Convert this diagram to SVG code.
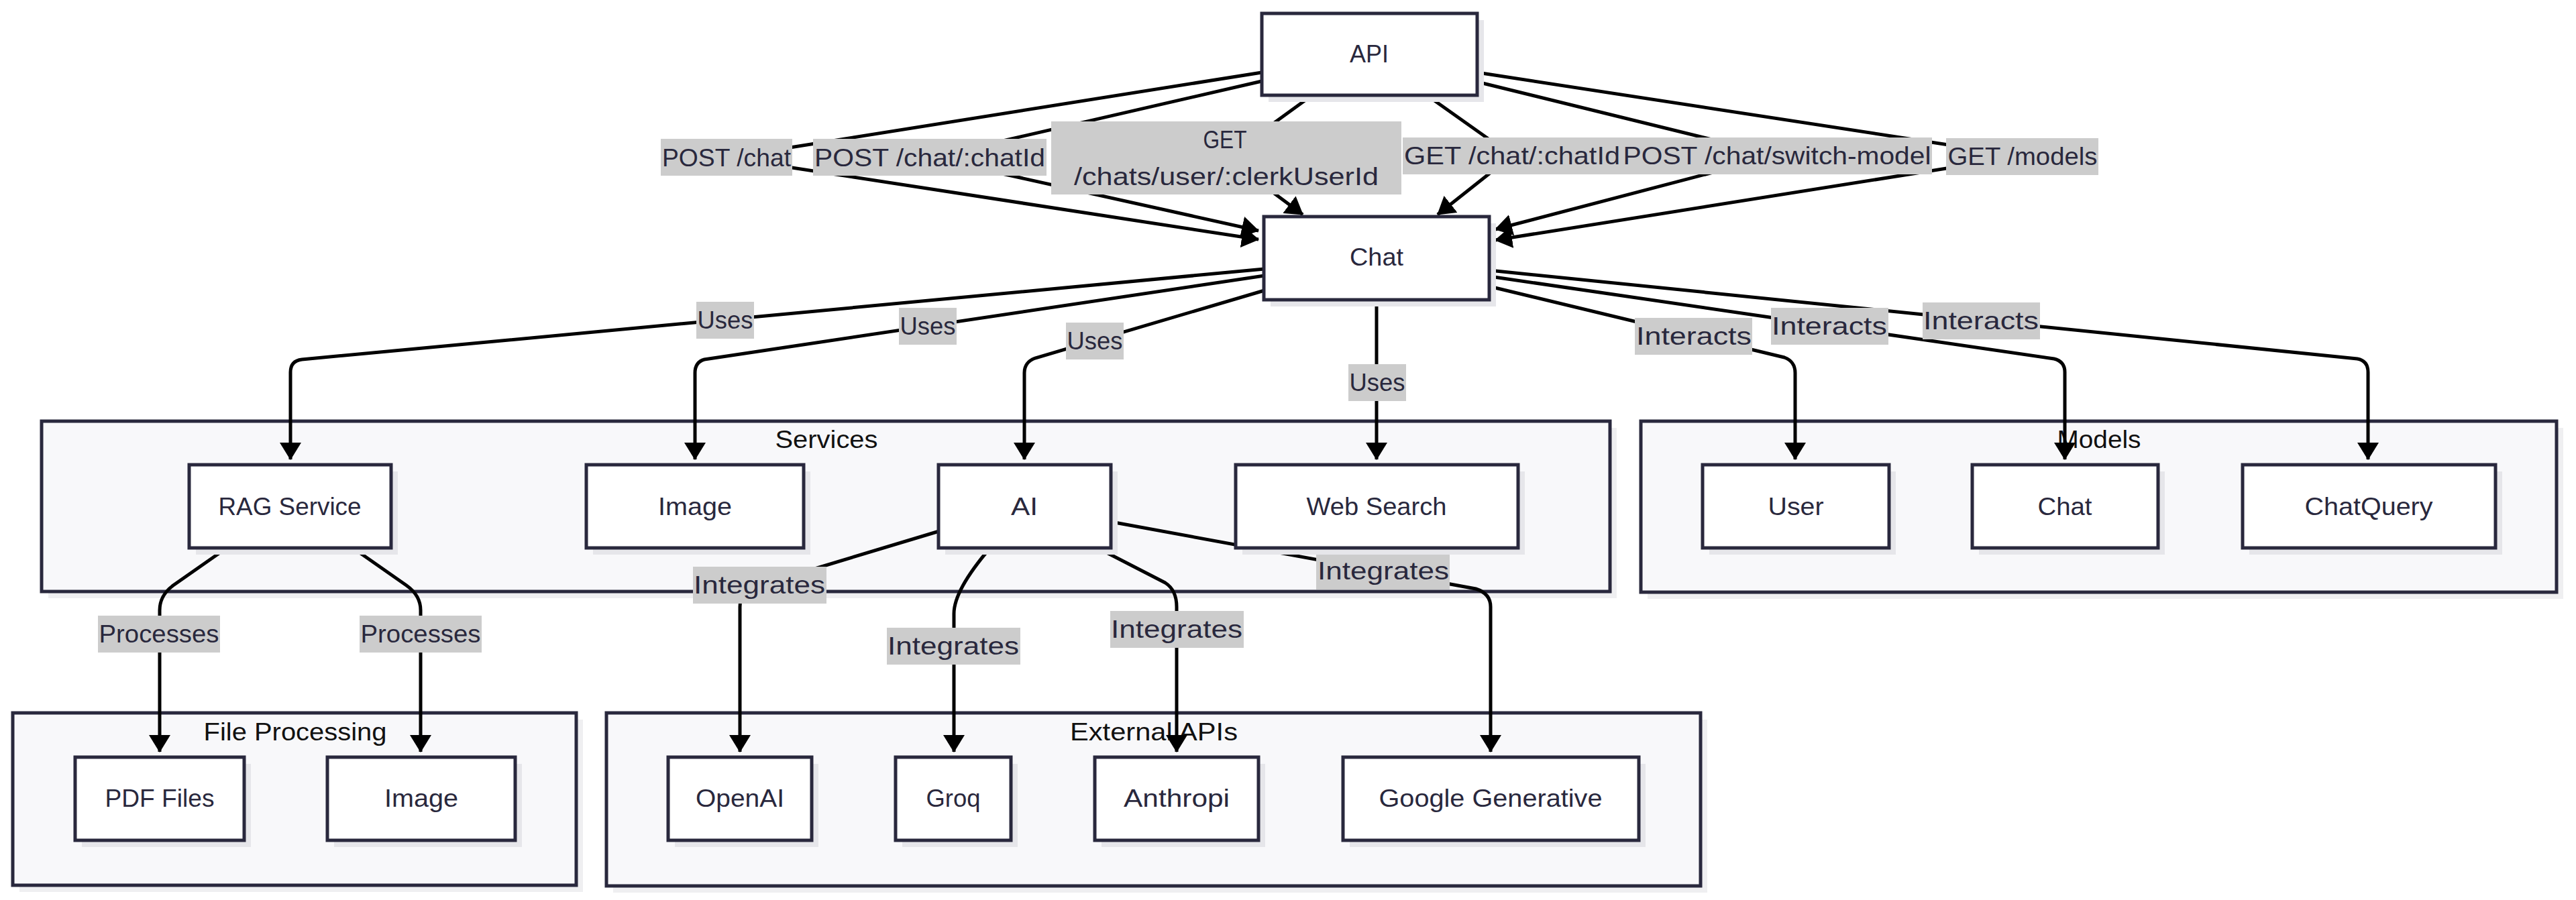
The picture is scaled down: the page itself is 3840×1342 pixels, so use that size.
<svg xmlns="http://www.w3.org/2000/svg" width="3840" height="1342" viewBox="0 0 3840 1342">
<defs>
<marker id="arr" viewBox="0 0 26 32" refX="25" refY="16" markerWidth="26" markerHeight="32" markerUnits="userSpaceOnUse" orient="auto"><path d="M0,0 L26,16 L0,32 z" fill="#000"/></marker>
</defs>
<style>
.cl{fill:#f8f8fa;stroke:#29283d;stroke-width:5}
.cls{fill:#efeff1}
.nd{fill:#fff;stroke:#29283d;stroke-width:5}
.sh{fill:#e6e6ea}
.t{font-family:"Liberation Sans",Arial,sans-serif;font-size:36px;fill:#29283d;text-anchor:middle;dominant-baseline:central}
.ct{font-family:"Liberation Sans",Arial,sans-serif;font-size:36px;fill:#111;text-anchor:middle;dominant-baseline:central}
.e{fill:none;stroke:#000;stroke-width:5;marker-end:url(#arr)}
.lb{fill:#cccccc}
</style>
<rect width="3840" height="1342" fill="#fff"/>

<g id="clusters">
<g id="cluster-services"><rect class="cls" x="72" y="638" width="2338" height="254"/><rect class="cl" x="62" y="628" width="2338" height="254"/><text class="ct" x="1232" y="655" textLength="153" lengthAdjust="spacingAndGlyphs">Services</text></g>
<g id="cluster-models"><rect class="cls" x="2456" y="638" width="1365" height="255"/><rect class="cl" x="2446" y="628" width="1365" height="255"/><text class="ct" x="3129" y="655" textLength="125" lengthAdjust="spacingAndGlyphs">Models</text></g>
<g id="cluster-fileprocessing"><rect class="cls" x="29" y="1073" width="840" height="257"/><rect class="cl" x="19" y="1063" width="840" height="257"/><text class="ct" x="440" y="1091" textLength="273" lengthAdjust="spacingAndGlyphs">File Processing</text></g>
<g id="cluster-externalapis"><rect class="cls" x="914" y="1073" width="1631" height="258"/><rect class="cl" x="904" y="1063" width="1631" height="258"/><text class="ct" x="1720" y="1091" textLength="250" lengthAdjust="spacingAndGlyphs">External APIs</text></g>
</g>

<g id="connectors">
<path class="e" d="M1881,108 L1083,235 L1876,357"/>
<path class="e" d="M1881,121 L1386,235 L1876,344"/>
<path class="e" d="M1956,142 L1828,235 L1942,320"/>
<path class="e" d="M2127,142 L2254,232 L2143,320"/>
<path class="e" d="M2202,122 L2649,232 L2229,342"/>
<path class="e" d="M2202,108 L3015,233 L2229,358"/>
<path class="e" d="M1885,401 L450,536 Q433,538 433,555 L433,685"/>
<path class="e" d="M1885,411 L1050,536 Q1036,540 1036,556 L1036,685"/>
<path class="e" d="M1885,433 L1543,534 Q1527,540 1527,556 L1527,685"/>
<path class="e" d="M2052,448 L2052,685"/>
<path class="e" d="M2220,427 L2660,533 Q2676,539 2676,556 L2676,685"/>
<path class="e" d="M2220,412 L3062,535 Q3078,539 3078,555 L3078,685"/>
<path class="e" d="M2220,403 L3514,535 Q3530,538 3530,555 L3530,685"/>
<path class="e" d="M338,817 L258,873 Q238,888 238,910 L238,1121"/>
<path class="e" d="M526,817 L606,873 Q627,888 627,910 L627,1121"/>
<path class="e" d="M1400,792 L1125,875 Q1103,882 1103,905 L1103,1121"/>
<path class="e" d="M1476,817 Q1422,880 1422,915 L1422,1121"/>
<path class="e" d="M1636,817 L1737,869 Q1754,880 1754,905 L1754,1121"/>
<path class="e" d="M1656,778 L2200,878 Q2222,885 2222,905 L2222,1121"/>
</g>

<g id="edge-labels">
<g><rect class="lb" x="985" y="207" width="196" height="55"/><text class="t" x="1083" y="235" textLength="192" lengthAdjust="spacingAndGlyphs">POST /chat</text></g>
<g><rect class="lb" x="1212" y="207" width="348" height="55"/><text class="t" x="1386" y="235" textLength="344" lengthAdjust="spacingAndGlyphs">POST /chat/:chatId</text></g>
<g><rect class="lb" x="1567" y="181" width="522" height="109"/><text class="t" x="1826" y="208" textLength="65" lengthAdjust="spacingAndGlyphs">GET</text><text class="t" x="1828" y="263" textLength="454" lengthAdjust="spacingAndGlyphs">/chats/user/:clerkUserId</text></g>
<g><rect class="lb" x="2091" y="205" width="326" height="55"/><text class="t" x="2254" y="232" textLength="322" lengthAdjust="spacingAndGlyphs">GET /chat/:chatId</text></g>
<g><rect class="lb" x="2417" y="205" width="463" height="55"/><text class="t" x="2649" y="232" textLength="459" lengthAdjust="spacingAndGlyphs">POST /chat/switch-model</text></g>
<g><rect class="lb" x="2901" y="206" width="227" height="55"/><text class="t" x="3015" y="233" textLength="223" lengthAdjust="spacingAndGlyphs">GET /models</text></g>
<g><rect class="lb" x="1038" y="450" width="86" height="55"/><text class="t" x="1081" y="477" textLength="83" lengthAdjust="spacingAndGlyphs">Uses</text></g>
<g><rect class="lb" x="1340" y="459" width="86" height="55"/><text class="t" x="1383" y="486" textLength="83" lengthAdjust="spacingAndGlyphs">Uses</text></g>
<g><rect class="lb" x="1589" y="481" width="86" height="55"/><text class="t" x="1632" y="508" textLength="83" lengthAdjust="spacingAndGlyphs">Uses</text></g>
<g><rect class="lb" x="2010" y="543" width="86" height="55"/><text class="t" x="2053" y="570" textLength="83" lengthAdjust="spacingAndGlyphs">Uses</text></g>
<g><rect class="lb" x="2437" y="474" width="175" height="55"/><text class="t" x="2525" y="501" textLength="172" lengthAdjust="spacingAndGlyphs">Interacts</text></g>
<g><rect class="lb" x="2640" y="459" width="175" height="55"/><text class="t" x="2727" y="486" textLength="172" lengthAdjust="spacingAndGlyphs">Interacts</text></g>
<g><rect class="lb" x="2866" y="451" width="175" height="55"/><text class="t" x="2953" y="478" textLength="172" lengthAdjust="spacingAndGlyphs">Interacts</text></g>
<g><rect class="lb" x="146" y="918" width="182" height="55"/><text class="t" x="237" y="945" textLength="179" lengthAdjust="spacingAndGlyphs">Processes</text></g>
<g><rect class="lb" x="536" y="918" width="182" height="55"/><text class="t" x="627" y="945" textLength="179" lengthAdjust="spacingAndGlyphs">Processes</text></g>
<g><rect class="lb" x="1033" y="845" width="199" height="55"/><text class="t" x="1132" y="872" textLength="196" lengthAdjust="spacingAndGlyphs">Integrates</text></g>
<g><rect class="lb" x="1322" y="936" width="199" height="55"/><text class="t" x="1421" y="963" textLength="196" lengthAdjust="spacingAndGlyphs">Integrates</text></g>
<g><rect class="lb" x="1655" y="911" width="199" height="55"/><text class="t" x="1754" y="938" textLength="196" lengthAdjust="spacingAndGlyphs">Integrates</text></g>
<g><rect class="lb" x="1962" y="824" width="199" height="55"/><text class="t" x="2062" y="851" textLength="196" lengthAdjust="spacingAndGlyphs">Integrates</text></g>
</g>

<g id="nodes">
<g id="node-api"><rect class="sh" x="1891" y="30" width="321" height="122"/><rect class="nd" x="1881" y="20" width="321" height="122"/><text class="t" x="2041" y="80" textLength="58" lengthAdjust="spacingAndGlyphs">API</text></g>
<g id="node-chat"><rect class="sh" x="1894" y="333" width="336" height="124"/><rect class="nd" x="1884" y="323" width="336" height="124"/><text class="t" x="2052" y="383" textLength="80" lengthAdjust="spacingAndGlyphs">Chat</text></g>
<g id="node-rag"><rect class="sh" x="292" y="703" width="301" height="124"/><rect class="nd" x="282" y="693" width="301" height="124"/><text class="t" x="432" y="755" textLength="213" lengthAdjust="spacingAndGlyphs">RAG Service</text></g>
<g id="node-image-service"><rect class="sh" x="884" y="703" width="324" height="124"/><rect class="nd" x="874" y="693" width="324" height="124"/><text class="t" x="1036" y="755" textLength="110" lengthAdjust="spacingAndGlyphs">Image</text></g>
<g id="node-ai"><rect class="sh" x="1409" y="703" width="257" height="124"/><rect class="nd" x="1399" y="693" width="257" height="124"/><text class="t" x="1527" y="755" textLength="40" lengthAdjust="spacingAndGlyphs">AI</text></g>
<g id="node-websearch"><rect class="sh" x="1852" y="703" width="421" height="124"/><rect class="nd" x="1842" y="693" width="421" height="124"/><text class="t" x="2052" y="755" textLength="209" lengthAdjust="spacingAndGlyphs">Web Search</text></g>
<g id="node-user"><rect class="sh" x="2548" y="703" width="278" height="124"/><rect class="nd" x="2538" y="693" width="278" height="124"/><text class="t" x="2677" y="755" textLength="83" lengthAdjust="spacingAndGlyphs">User</text></g>
<g id="node-chat-model"><rect class="sh" x="2950" y="703" width="277" height="124"/><rect class="nd" x="2940" y="693" width="277" height="124"/><text class="t" x="3078" y="755" textLength="81" lengthAdjust="spacingAndGlyphs">Chat</text></g>
<g id="node-chatquery"><rect class="sh" x="3353" y="703" width="377" height="124"/><rect class="nd" x="3343" y="693" width="377" height="124"/><text class="t" x="3531" y="755" textLength="191" lengthAdjust="spacingAndGlyphs">ChatQuery</text></g>
<g id="node-pdf"><rect class="sh" x="122" y="1139" width="252" height="124"/><rect class="nd" x="112" y="1129" width="252" height="124"/><text class="t" x="238" y="1190" textLength="163" lengthAdjust="spacingAndGlyphs">PDF Files</text></g>
<g id="node-image-file"><rect class="sh" x="498" y="1139" width="280" height="124"/><rect class="nd" x="488" y="1129" width="280" height="124"/><text class="t" x="628" y="1190" textLength="110" lengthAdjust="spacingAndGlyphs">Image</text></g>
<g id="node-openai"><rect class="sh" x="1006" y="1139" width="214" height="124"/><rect class="nd" x="996" y="1129" width="214" height="124"/><text class="t" x="1103" y="1190" textLength="132" lengthAdjust="spacingAndGlyphs">OpenAI</text></g>
<g id="node-groq"><rect class="sh" x="1345" y="1139" width="172" height="124"/><rect class="nd" x="1335" y="1129" width="172" height="124"/><text class="t" x="1421" y="1190" textLength="81" lengthAdjust="spacingAndGlyphs">Groq</text></g>
<g id="node-anthropi"><rect class="sh" x="1642" y="1139" width="244" height="124"/><rect class="nd" x="1632" y="1129" width="244" height="124"/><text class="t" x="1754" y="1190" textLength="158" lengthAdjust="spacingAndGlyphs">Anthropi</text></g>
<g id="node-google"><rect class="sh" x="2012" y="1139" width="441" height="124"/><rect class="nd" x="2002" y="1129" width="441" height="124"/><text class="t" x="2222" y="1190" textLength="333" lengthAdjust="spacingAndGlyphs">Google Generative</text></g>
</g>
</svg>
